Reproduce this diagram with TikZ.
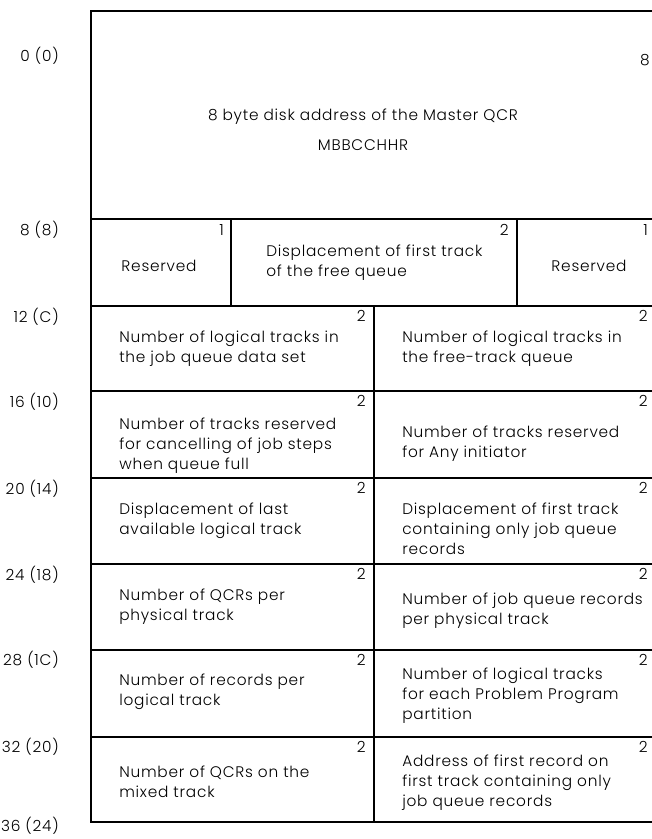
\documentclass[tikz,border=0pt]{standalone}
\usepackage{fontspec}
\setmainfont{Poppins}[UprightFont=* Light, LetterSpace=5]
\begin{document}
\begin{tikzpicture}[x=0.75pt,y=-0.75pt,
  frame/.style={line width=2pt},
  rule/.style={line width=0.8pt},
  body/.style={font=\fontsize{11.5}{15}\selectfont, inner sep=0pt},
  txt/.style={body, align=left, anchor=west},
  ctxt/.style={body, align=center},
  size/.style={body, anchor=north east},
  offs/.style={body, anchor=east}]
\useasboundingbox (0,0) rectangle (652,839);
\clip (0,0) rectangle (652,839);

% field separators
\foreach \y in {219,306,391,478,564,650,737} \draw[rule] (91,\y) -- (660,\y);
\draw[rule] (231,219) -- (231,306);
\draw[rule] (517,219) -- (517,306);
\draw[rule] (374,306) -- (374,822);
% outer frame
\draw[frame] (91,11) rectangle (658,822);

% offsets, decimal (hex)
\node[offs] (o0)  at (59,56)  {0 (0)};
\node[offs] (o8)  at (59,230) {8 (8)};
\node[offs] (o12) at (59,317) {12 (C)};
\node[offs] (o16) at (59,402) {16 (10)};
\node[offs] (o20) at (59,489) {20 (14)};
\node[offs] (o24) at (59,575) {24 (18)};
\node[offs] (o28) at (59,660) {28 (1C)};
\node[offs] (o32) at (59,747) {32 (20)};
\node[offs] (o36) at (59,826) {36 (24)};

% field lengths
\node[body] (l0) at (645,60) {8};
\node[size] (l8a) at (224,224) {1};
\node[size] (l8b) at (509,224) {2};
\node[size] (l8c) at (648,224) {1};
\foreach \y [count=\i] in {306,391,478,564,650,737} {
  \node[size] (la\i) at (366,\y+4) {2};
  \node[size] (lb\i) at (648,\y+4) {2};
}

% field descriptions
\node[ctxt] (f0) at (363,130) {8 byte disk address of the Master QCR\\[7.5pt]MBBCCHHR};

\node[ctxt] (f8a) at (159,266) {Reserved};
\node[txt]  (f8b) at (266,263) {Displacement of first track\\of the free queue};
\node[ctxt] (f8c) at (589,266) {Reserved};

\node[txt] (f12a) at (119,349) {Number of logical tracks in\\the job queue data set};
\node[txt] (f12b) at (402,349) {Number of logical tracks in\\the free-track queue};

\node[txt] (f16a) at (119,446) {Number of tracks reserved\\for cancelling of job steps\\when queue full};
\node[txt] (f16b) at (402,444) {Number of tracks reserved\\for Any initiator};

\node[txt] (f20a) at (119,521) {Displacement of last\\available logical track};
\node[txt] (f20b) at (402,529) {Displacement of first track\\containing only job queue\\records};

\node[txt] (f24a) at (119,607) {Number of QCRs per\\physical track};
\node[txt] (f24b) at (402,611) {Number of job queue records\\per physical track};

\node[txt] (f28a) at (119,692) {Number of records per\\logical track};
\node[txt] (f28b) at (402,696) {Number of logical tracks\\for each Problem Program\\partition};

\node[txt] (f32a) at (119,782) {Number of QCRs on the\\mixed track};
\node[txt] (f32b) at (402,783) {Address of first record on\\first track containing only\\job queue records};
\end{tikzpicture}
\end{document}
